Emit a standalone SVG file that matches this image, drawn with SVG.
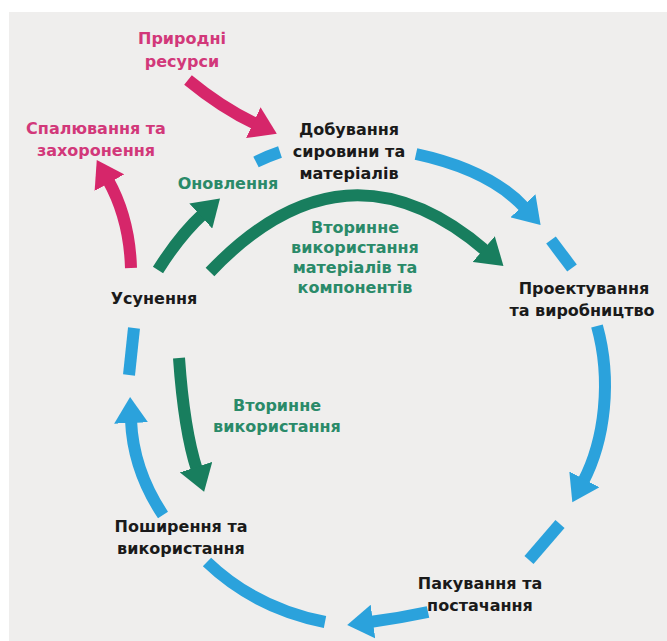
<svg xmlns="http://www.w3.org/2000/svg" width="667" height="641" viewBox="0 0 667 641">
<style>
text{font-family:"DejaVu Sans","Liberation Sans",sans-serif;font-weight:bold;font-size:16px;text-anchor:middle;dominant-baseline:central}
.k{fill:#1a1a1a}
.g{fill:#2a8a69}
.p{fill:#d2387a}
.c{fill:none;stroke-width:12;stroke-linecap:butt}
.b{stroke:#2ba2dc}
.gr{stroke:#187e5e}
.pk{stroke:#d6266a}
</style>
<defs>
<marker id="ab" markerUnits="userSpaceOnUse" markerWidth="28" markerHeight="34" viewBox="0 0 28 34" refX="3" refY="17" orient="auto"><path d="M0,0 L26,17 L0,34 z" fill="#2ba2dc"/></marker>
<marker id="ag" markerUnits="userSpaceOnUse" markerWidth="28" markerHeight="34" viewBox="0 0 28 34" refX="3" refY="17" orient="auto"><path d="M0,0 L26,17 L0,34 z" fill="#187e5e"/></marker>
<marker id="ap" markerUnits="userSpaceOnUse" markerWidth="28" markerHeight="34" viewBox="0 0 28 34" refX="3" refY="17" orient="auto"><path d="M0,0 L26,17 L0,34 z" fill="#d6266a"/></marker>
</defs>
<rect x="0" y="0" width="667" height="641" fill="#ffffff"/>
<rect x="9" y="12" width="658" height="629" fill="#efeeed"/>
<g id="connectors">
<path class="c pk" d="M188,80 Q222,108 256,124" marker-end="url(#ap)"/>
<path class="c pk" d="M131,268 C130,235 122,205 108,180" marker-end="url(#ap)"/>
<path class="c gr" d="M158,270 Q180,235 203,214" marker-end="url(#ag)"/>
<path class="c gr" d="M210,272 Q345,130 486,251" marker-end="url(#ag)"/>
<path class="c gr" d="M179,358 Q184,430 197,470" marker-end="url(#ag)"/>
<path class="c b" d="M256,162 Q268,156 280,152"/>
<path class="c b" d="M416,154 Q490,170 525,208" marker-end="url(#ab)"/>
<path class="c b" d="M551,240 L572,268"/>
<path class="c b" d="M597,326 C612,380 605,440 583,482" marker-end="url(#ab)"/>
<path class="c b" d="M560,524 L529,560"/>
<path class="c b" d="M428,612 Q400,618 370,622" marker-end="url(#ab)"/>
<path class="c b" d="M207,562 Q255,608 325,622"/>
<path class="c b" d="M163,515 Q133,470 131,420" marker-end="url(#ab)"/>
<path class="c b" d="M134,328 L129,375"/>
</g>
<g id="n-pryrodni"><text class="p" x="182" y="38">Природні</text><text class="p" x="182" y="61">ресурси</text></g>
<g id="n-spaliuvannia"><text class="p" x="96" y="128">Спалювання та</text><text class="p" x="96" y="150">захоронення</text></g>
<g id="n-dobuvannia"><text class="k" x="349" y="129">Добування</text><text class="k" x="349" y="151">сировини та</text><text class="k" x="349" y="173">матеріалів</text></g>
<g id="n-onovlennia"><text class="g" x="228" y="183">Оновлення</text></g>
<g id="n-vtorynne-mat"><text class="g" x="355" y="227">Вторинне</text><text class="g" x="355" y="247">використання</text><text class="g" x="355" y="267">матеріалів та</text><text class="g" x="355" y="287">компонентів</text></g>
<g id="n-proektuvannia"><text class="k" x="584" y="288">Проектування</text><text class="k" x="582" y="310">та виробництво</text></g>
<g id="n-usunennia"><text class="k" x="154" y="298">Усунення</text></g>
<g id="n-vtorynne"><text class="g" x="277" y="405">Вторинне</text><text class="g" x="277" y="426">використання</text></g>
<g id="n-poshyrennia"><text class="k" x="181" y="526">Поширення та</text><text class="k" x="181" y="548">використання</text></g>
<g id="n-pakuvannia"><text class="k" x="480" y="583">Пакування та</text><text class="k" x="480" y="605">постачання</text></g>
</svg>
